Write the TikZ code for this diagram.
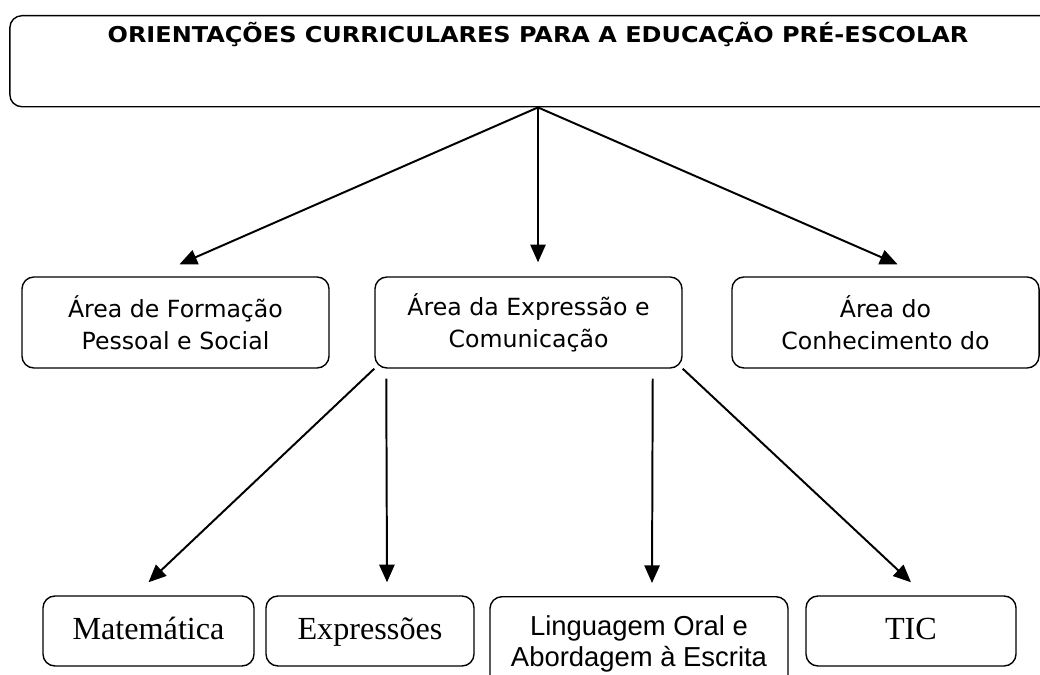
\documentclass[tikz,border=0pt]{standalone}
\usepackage{fontspec}
\usetikzlibrary{positioning}
\usetikzlibrary{arrows.meta}
\newfontfamily\verdfont{DejaVu Sans}
\newfontfamily\titlefont[FakeStretch=1.1]{DejaVu Sans}
\newfontfamily\timesfont{Liberation Serif}
\newfontfamily\arialfont{Liberation Sans}

\begin{document}
\begin{tikzpicture}[x=0.025cm,y=-0.025cm,
  box/.style={draw=black,line width=1pt,rounded corners=0.3cm,align=center,inner sep=0pt},
  areabox/.style={box,minimum width=7.675cm,minimum height=2.275cm,font=\verdfont\fontsize{16.8}{22.7}\selectfont},
  subbox/.style={box,minimum height=1.75cm,text height=0.52cm,text depth=0.12cm,font=\timesfont\fontsize{22.9}{24}\selectfont},
  arr/.style={line width=1.4pt,-{Triangle[length=0.44cm,width=0.38cm]}}]
\useasboundingbox (0,0) rectangle (1040,675);

% top box
\node[box,anchor=north,minimum width=26.4cm,inner ysep=0.35cm,text height=0.325cm,text depth=1.25cm,
  font=\titlefont\bfseries\fontsize{15.5}{18}\selectfont] (ocepe) at (538,15)
  {ORIENTAÇÕES CURRICULARES PARA A EDUCAÇÃO PRÉ-ESCOLAR};

% areas
\node[areabox] (fps) at (175.5,322.5) {Área de Formação\\Pessoal e Social};
\node[areabox] (ec) at (528.5,322.5) {Área da Expressão e\\Comunicação};
\node[areabox] (cm) at (885.5,322.5) {Área do\\Conhecimento do};

% sub-areas of expressao e comunicacao
\node[subbox,minimum width=5.275cm] (mat) at (148.5,631) {Matemática};
\node[subbox,minimum width=5.2cm] (expr) at (370,631) {Expressões};
\node[box,anchor=north,minimum width=7.45cm,minimum height=2.375cm,
  font=\arialfont\fontsize{19.5}{22}\selectfont] (loae) at (639,596) {Linguagem Oral e\\Abordagem à Escrita};
\node[subbox,minimum width=5.25cm] (tic) at (911,631) {TIC};

\draw[arr] (ocepe.south) -- ([xshift=0.1cm,yshift=0.3cm]fps.north);
\draw[arr] (ocepe.south) -- ([yshift=0.35cm]ec.north -| ocepe.south);
\draw[arr] (ocepe.south) -- ([xshift=0.3cm,yshift=0.3cm]cm.north);

\draw[arr] (ec.south west) -- ([yshift=0.325cm]mat.north);
\draw[arr] ([xshift=0.3cm,yshift=-0.25cm]ec.south west) -- ([xshift=0.425cm,yshift=0.325cm]expr.north);
\draw[arr] ([xshift=-0.75cm,yshift=-0.25cm]ec.south east) -- ([xshift=0.325cm,yshift=0.325cm]loae.north);
\draw[arr] (ec.south east) -- ([yshift=0.325cm]tic.north);

\end{tikzpicture}
\end{document}
